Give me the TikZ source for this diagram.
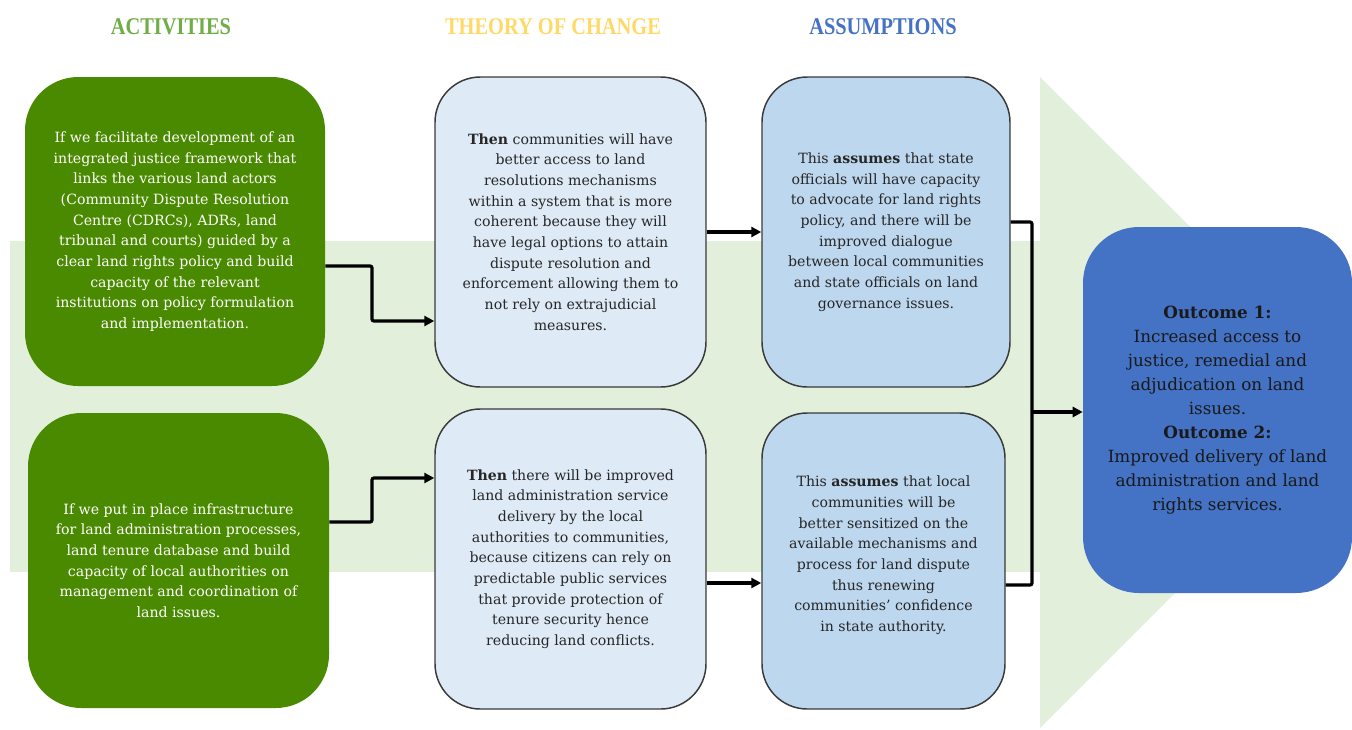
\documentclass[tikz,border=0pt]{standalone}
\usepackage{fontspec}
\setmainfont{DejaVu Serif}
\newfontfamily\titlefont{Liberation Serif}
\usetikzlibrary{arrows.meta,calc}
\definecolor{actgreen}{HTML}{4A8A00}
\definecolor{tocfill}{HTML}{DEEAF6}
\definecolor{asfill}{HTML}{BDD7EE}
\definecolor{outfill}{HTML}{4472C4}
\definecolor{bandfill}{HTML}{E2EFDA}
\definecolor{titlegreen}{HTML}{70AD47}
\definecolor{titleyellow}{HTML}{FFD966}
\definecolor{titleblue}{HTML}{4472C4}
\definecolor{edgegray}{HTML}{3A3A3A}
\begin{document}
\begin{tikzpicture}[x=0.75pt,y=-0.75pt,
  bodytext/.style={align=center,font=\fontsize{10.6}{15.5}\selectfont,inner sep=0pt},
  actbox/.style={bodytext,fill=actgreen,text=white,rounded corners=40pt},
  tocbox/.style={bodytext,fill=tocfill,draw=edgegray,line width=1.1pt,rounded corners=34pt,text=black!85},
  asbox/.style={bodytext,fill=asfill,draw=edgegray,line width=1.1pt,rounded corners=34pt,text=black!85},
  outbox/.style={align=center,font=\fontsize{12.6}{18}\selectfont,inner sep=0pt,fill=outfill,rounded corners=42pt,text=black!90},
  headtitle/.style={font=\titlefont\bfseries\fontsize{18}{20}\selectfont,inner sep=0pt},
  link/.style={line width=2.4pt,draw=black,rounded corners=1.5pt},
  conn/.style={link,-{Triangle[length=7.5pt,width=7.5pt]}}
]
\useasboundingbox (0,0) rectangle (1352,729);
\begin{scope}
  \clip (0,0) rectangle (1352,729);
  \fill[bandfill] (10,241) rectangle (1040,572);
  \fill[bandfill] (1040,77) -- (1366,402) -- (1040,728) -- cycle;
\end{scope}

% titles
\node[headtitle,text=titlegreen] (t1) at (171,27) {\scalebox{0.85}[1]{ACTIVITIES}};
\node[headtitle,text=titleyellow] (t2) at (553,27) {\scalebox{0.85}[1]{THEORY OF CHANGE}};
\node[headtitle,text=titleblue] (t3) at (883,27) {\scalebox{0.85}[1]{ASSUMPTIONS}};

% boxes
\node[actbox,minimum width=225pt,minimum height=231.75pt] (act1) at (175,231.5) {If we facilitate development of an\\
integrated justice framework that\\
links the various land actors\\
(Community Dispute Resolution\\
Centre (CDRCs), ADRs, land\\
tribunal and courts) guided by a\\
clear land rights policy and build\\
capacity of the relevant\\
institutions on policy formulation\\
and implementation.};

\node[actbox,minimum width=225.75pt,minimum height=221.25pt] (act2) at (178.5,560.5) {If we put in place infrastructure\\
for land administration processes,\\
land tenure database and build\\
capacity of local authorities on\\
management and coordination of\\
land issues.};

\node[tocbox,minimum width=203.25pt,minimum height=232.5pt] (toc1) at (570.5,232) {\textbf{Then} communities will have\\
better access to land\\
resolutions mechanisms\\
within a system that is more\\
coherent because they will\\
have legal options to attain\\
dispute resolution and\\
enforcement allowing them to\\
not rely on extrajudicial\\
measures.};

\node[tocbox,minimum width=203.25pt,minimum height=225pt] (toc2) at (570.5,559) {\textbf{Then} there will be improved\\
land administration service\\
delivery by the local\\
authorities to communities,\\
because citizens can rely on\\
predictable public services\\
that provide protection of\\
tenure security hence\\
reducing land conflicts.};

\node[asbox,minimum width=186pt,minimum height=232.5pt] (as1) at (886,232) {This \textbf{assumes} that state\\
officials will have capacity\\
to advocate for land rights\\
policy, and there will be\\
improved dialogue\\
between local communities\\
and state officials on land\\
governance issues.};

\node[asbox,minimum width=182.25pt,minimum height=222pt] (as2) at (883.5,561) {This \textbf{assumes} that local\\
communities will be\\
better sensitized on the\\
available mechanisms and\\
process for land dispute\\
thus renewing\\
communities’ confidence\\
in state authority.\\[-4.5pt]\mbox{}};

\node[outbox,minimum width=201.75pt,minimum height=274.5pt] (out) at (1217.5,410) {\textbf{Outcome 1:}\\
Increased access to\\
justice, remedial and\\
adjudication on land\\
issues.\\
\textbf{Outcome 2:}\\
Improved delivery of land\\
administration and land\\
rights services.};

% connector helper coordinates
\coordinate (a1out) at (325,266);
\coordinate (a1mid1) at (372,266);
\coordinate (a1mid2) at (372,321);
\coordinate (a2out) at (329,522);
\coordinate (a2mid1) at (372,522);
\coordinate (a2mid2) at (372,478);
\coordinate (y583) at (0,583);
\coordinate (y222) at (0,222);
\coordinate (y585) at (0,585);
\coordinate (br1) at (1032,222);
\coordinate (br2) at (1032,585);
\coordinate (brm) at (1032,412);

\draw[conn] (act1.east |- a1out) -- (a1mid1) -- (a1mid2) -- (toc1.west |- a1mid2);
\draw[conn] (act2.east |- a2out) -- (a2mid1) -- (a2mid2) -- (toc2.west |- a2mid2);
\draw[conn] (toc1.east) -- (as1.west |- toc1.east);
\draw[conn] (toc2.east |- y583) -- (as2.west |- y583);
\draw[link] (as1.east |- y222) -- (br1) -- (br2) -- (as2.east |- y585);
\draw[conn] (brm) -- (out.west |- brm);
\end{tikzpicture}
\end{document}
